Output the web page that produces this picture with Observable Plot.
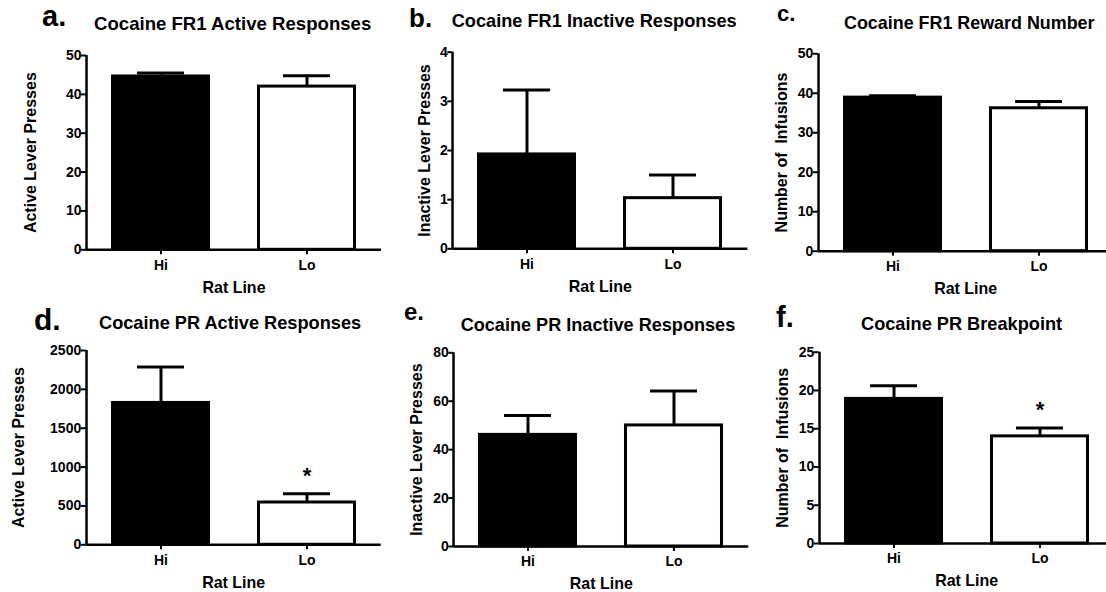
<!DOCTYPE html>
<html>
<head>
<meta charset="utf-8">
<script src="https://cdn.jsdelivr.net/npm/d3@7"></script>
<script src="https://cdn.jsdelivr.net/npm/@observablehq/plot@0.6"></script>
<style>
  html, body { margin: 0; padding: 0; background: #fff; overflow: hidden; }
  #fig { position: relative; width: 1106px; height: 592px; overflow: hidden; background: #fff;
         font-family: "Liberation Sans", Arial, sans-serif; font-weight: bold; color: #000; }
  .title, .letter { position: absolute; white-space: nowrap; line-height: 1; }
  #fig svg { position: absolute; }
</style>
</head>
<body>
<div id="fig"></div>
<script>
// ---------------- data ----------------
const categories = ["Hi", "Lo"];
const xLabel = "Rat Line";

const fr1ActiveMean = [44.6, 42.0];
const fr1ActiveSem = [0.9, 2.8];
const fr1ActiveTicks = [0, 10, 20, 30, 40, 50];

const fr1InactiveMean = [1.92, 1.03];
const fr1InactiveSem = [1.31, 0.47];
const fr1InactiveTicks = [0, 1, 2, 3, 4];

const fr1RewardMean = [38.9, 36.2];
const fr1RewardSem = [0.5, 1.7];
const fr1RewardTicks = [0, 10, 20, 30, 40, 50];

const prActiveMean = [1825, 544];
const prActiveSem = [463, 112];
const prActiveSig = [false, true];
const prActiveTicks = [0, 500, 1000, 1500, 2000, 2500];

const prInactiveMean = [46.1, 50.0];
const prInactiveSem = [8.0, 14.2];
const prInactiveTicks = [0, 20, 40, 60, 80];

const prBreakpointMean = [18.9, 14.0];
const prBreakpointSem = [1.7, 1.1];
const prBreakpointSig = [false, true];
const prBreakpointTicks = [0, 5, 10, 15, 20, 25];

const panelLetters = ["a.", "b.", "c.", "d.", "e.", "f."];
const panelTitles = [
  "Cocaine FR1 Active Responses",
  "Cocaine FR1 Inactive Responses",
  "Cocaine FR1 Reward Number",
  "Cocaine PR Active Responses",
  "Cocaine PR Inactive Responses",
  "Cocaine PR Breakpoint"
];
const yLabels = [
  "Active Lever Presses",
  "Inactive Lever Presses",
  "Number of  Infusions",
  "Active Lever Presses",
  "Inactive Lever Presses",
  "Number of  Infusions"
];

// ---------------- layout ----------------
const FRAME_W = 295, PAD_IN = 0.322, PAD_OUT = 0.171;
const layout = [
  {left: 0,   top: 0,   axisX: 86,    yTop: 55,    y0: 249.3, yLab: 56,
   letter: {x: 42, base: 26.7, size: 29}, title: {x: 94, base: 30.7, size: 18.6}},
  {left: 370, top: 0,   axisX: 452.3, yTop: 51.7,  y0: 248.3, yLab: 28,
   letter: {x: 409, base: 26.7, size: 26}, title: {x: 451.7, base: 27.3, size: 18.2}},
  {left: 736, top: 0,   axisX: 817.7, yTop: 53.3,  y0: 250.7, yLab: 36,
   letter: {x: 777, base: 21.7, size: 22}, title: {x: 844, base: 30, size: 17.9}},
  {left: 0,   top: 295, axisX: 85.7,  yTop: 350,   y0: 544.3, yLab: 67,
   letter: {x: 34, base: 330, size: 30}, title: {x: 99, base: 329, size: 18.2}},
  {left: 370, top: 295, axisX: 453.3, yTop: 352.3, y0: 546,   yLab: 37,
   letter: {x: 404, base: 320, size: 24}, title: {x: 460.7, base: 331, size: 18.1}},
  {left: 736, top: 295, axisX: 818.7, yTop: 351.7, y0: 543,   yLab: 36,
   letter: {x: 776, base: 327.3, size: 29}, title: {x: 861, base: 330, size: 18.2}}
];

const panels = [
  {mean: fr1ActiveMean, sem: fr1ActiveSem, ticks: fr1ActiveTicks},
  {mean: fr1InactiveMean, sem: fr1InactiveSem, ticks: fr1InactiveTicks},
  {mean: fr1RewardMean, sem: fr1RewardSem, ticks: fr1RewardTicks},
  {mean: prActiveMean, sem: prActiveSem, ticks: prActiveTicks, sig: prActiveSig},
  {mean: prInactiveMean, sem: prInactiveSem, ticks: prInactiveTicks},
  {mean: prBreakpointMean, sem: prBreakpointSem, ticks: prBreakpointTicks, sig: prBreakpointSig}
];

const fig = document.getElementById("fig");
const barFill = {Hi: "#000", Lo: "#fff"};

// offset from band center of first category to frame left edge
const step = FRAME_W / (categories.length - PAD_IN + 2 * PAD_OUT);
const axisOffset = PAD_OUT * step + (1 - PAD_IN) * step / 2;

panels.forEach((p, k) => {
  const L = layout[k];
  const data = categories.map((c, i) => ({
    line: c, mean: p.mean[i], sem: p.sem[i], sig: p.sig ? p.sig[i] : false
  }));
  const yMax = p.ticks[p.ticks.length - 1];
  const mL = L.axisX - L.left, mT = L.yTop - L.top, mB = 60;
  const frameH = L.y0 - L.yTop;
  const chart = Plot.plot({
    width: mL + FRAME_W,
    height: mT + frameH + mB,
    marginLeft: mL, marginRight: 0, marginTop: mT, marginBottom: mB,
    style: {fontFamily: "'Liberation Sans', Arial, sans-serif", fontWeight: "bold",
            fontSize: "14px", color: "#000", background: "none", overflow: "visible"},
    x: {type: "band", domain: categories, paddingInner: PAD_IN, paddingOuter: PAD_OUT, axis: null},
    y: {domain: [0, yMax], axis: null},
    marks: [
      Plot.barY(data, {x: "line", y: "mean", fill: d => barFill[d.line], stroke: "#000",
                       strokeWidth: 3, insetLeft: 1.5, insetRight: 1.5}),
      Plot.ruleX(data, {x: "line", y1: "mean", y2: d => d.mean + d.sem, strokeWidth: 3}),
      Plot.tickY(data, {x: "line", y: d => d.mean + d.sem, strokeWidth: 3, insetLeft: 26, insetRight: 26}),
      Plot.text(data.filter(d => d.sig), {x: "line", y: d => d.mean + d.sem, text: () => "*",
                       dy: -18, fontSize: 22}),
      Plot.ruleY([0], {strokeWidth: 2.5}),
      Plot.ruleX([categories[0]], {x: d => d, y1: 0, y2: yMax, dx: -axisOffset, strokeWidth: 2.5}),
      Plot.axisY({ticks: p.ticks, tickSize: 5, tickPadding: 0, strokeWidth: 2, fontSize: 14,
                  label: null, tickFormat: d => String(d)}),
      Plot.axisX({tickSize: 5, tickPadding: 5, strokeWidth: 2, fontSize: 14, label: null}),
      Plot.text([yLabels[k]], {text: d => d, frameAnchor: "left", textAnchor: "middle",
                               lineAnchor: "middle", dx: -L.yLab, rotate: -90, fontSize: 16}),
      Plot.text([xLabel], {text: d => d, frameAnchor: "bottom", dy: 43, fontSize: 16})
    ]
  });
  chart.style.left = L.left + "px";
  chart.style.top = L.top + "px";
  fig.appendChild(chart);

  const t = document.createElement("div");
  t.className = "title";
  t.textContent = panelTitles[k];
  t.style.fontSize = L.title.size + "px";
  t.style.left = L.title.x + "px";
  t.style.top = (L.title.base - 0.8465 * L.title.size) + "px";
  fig.appendChild(t);

  const l = document.createElement("div");
  l.className = "letter";
  l.textContent = panelLetters[k];
  l.style.fontSize = L.letter.size + "px";
  l.style.left = L.letter.x + "px";
  l.style.top = (L.letter.base - 0.8465 * L.letter.size) + "px";
  fig.appendChild(l);
});
</script>
</body>
</html>
